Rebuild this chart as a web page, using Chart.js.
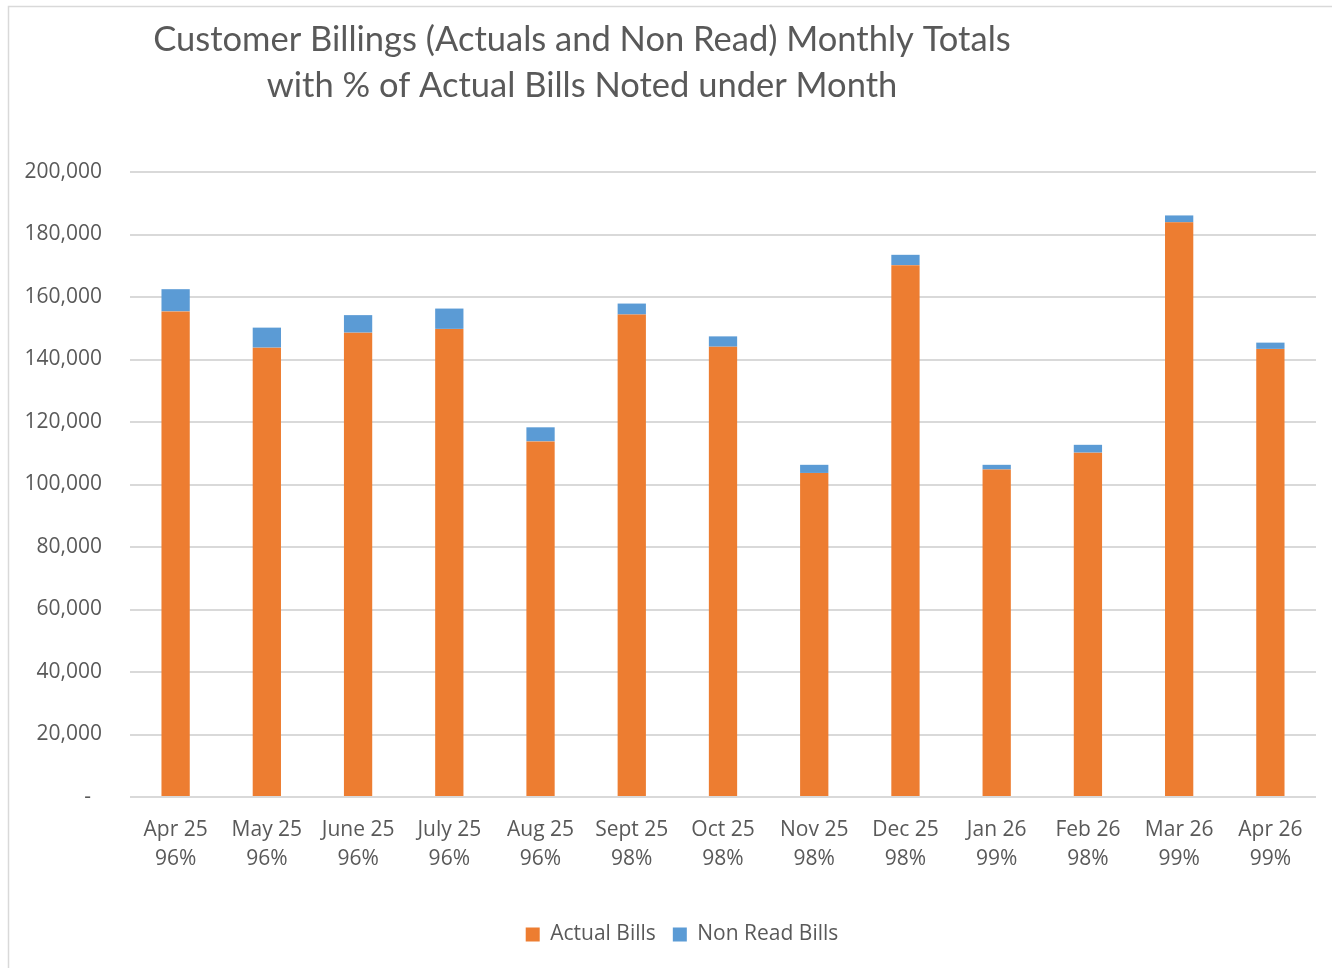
<!DOCTYPE html>
<html>
<head>
<meta charset="utf-8">
<script src="https://cdn.jsdelivr.net/npm/chart.js@4"></script>
<style>
  html, body { margin: 0; padding: 0; background: #fff; }
  #wrap { position: relative; width: 1332px; height: 968px; }
</style>
</head>
<body>
<div id="wrap"><canvas id="c" width="1332" height="968"></canvas></div>
<script>
const months = ["Apr 25","May 25","June 25","July 25","Aug 25","Sept 25","Oct 25","Nov 25","Dec 25","Jan 26","Feb 26","Mar 26","Apr 26"];
const actualPct = ["96%","96%","96%","96%","96%","98%","98%","98%","98%","99%","98%","99%","99%"];
const actualBills = [155400,143800,148600,149800,113800,154400,144100,103700,170200,104800,110200,183900,143400];
const nonReadBills = [7100,6400,5600,6500,4500,3500,3300,2600,3300,1500,2500,2200,2000];
const titleLines = ["Customer Billings (Actuals and Non Read) Monthly Totals","with % of Actual Bills Noted under Month"];

const TEXT = "#595959";
const FONT = "'Open Sans', sans-serif";

const frameAndTitle = {
  id: 'frameAndTitle',
  afterLayout(chart) {
    // legend in the reference sits slightly right of centre
    const lg = chart.legend;
    if (lg) { lg.left += 24; lg.right += 24; }
  },
  beforeDraw(chart) {
    const ctx = chart.ctx;
    ctx.save();
    ctx.fillStyle = '#fff';
    ctx.fillRect(0, 0, chart.width, chart.height);
    ctx.strokeStyle = '#d9d9d9';
    ctx.lineWidth = 1.5;
    ctx.beginPath();
    ctx.moveTo(8.5, chart.height);
    ctx.lineTo(8.5, 6.5);
    ctx.lineTo(chart.width, 6.5);
    ctx.stroke();
    ctx.restore();
  },
  afterDraw(chart) {
    const ctx = chart.ctx;
    ctx.save();
    ctx.fillStyle = TEXT;
    ctx.font = "34.5px Lato, sans-serif";
    ctx.textAlign = 'center';
    ctx.textBaseline = 'middle';
    ctx.fillText(titleLines[0], 582, 40);
    ctx.fillText(titleLines[1], 582, 86);
    ctx.restore();
  }
};

new Chart(document.getElementById('c'), {
  type: 'bar',
  data: {
    labels: months.map((m, i) => [m, actualPct[i]]),
    datasets: [
      { label: 'Actual Bills', data: actualBills, backgroundColor: '#ED7D31', borderWidth: 0, categoryPercentage: 1, barPercentage: 0.31 },
      { label: 'Non Read Bills', data: nonReadBills, backgroundColor: '#5B9BD5', borderWidth: 0, categoryPercentage: 1, barPercentage: 0.31 }
    ]
  },
  options: {
    responsive: false,
    animation: false,
    layout: { padding: { top: 172, right: 16, bottom: 13, left: 0 } },
    plugins: {
      title: { display: false },
      tooltip: { enabled: false },
      legend: {
        position: 'bottom',
        labels: {
          color: TEXT,
          font: { family: FONT, size: 21 },
          boxWidth: 14, boxHeight: 14, padding: 17
        }
      }
    },
    scales: {
      x: {
        stacked: true,
        grid: { display: false, drawTicks: false },
        border: { display: false },
        ticks: { color: TEXT, font: { family: FONT, size: 21, lineHeight: 1.4 }, padding: 18, maxRotation: 0, autoSkip: false },
        afterFit(scale) { scale.height = 110; }
      },
      y: {
        stacked: true,
        min: 0, max: 200000,
        grid: { color: '#d9d9d9', lineWidth: 2, drawTicks: false },
        border: { display: false },
        ticks: {
          stepSize: 20000,
          color: TEXT,
          font: { family: FONT, size: 21 },
          padding: 28,
          callback: v => v === 0 ? '-  ' : v.toLocaleString('en-US')
        },
        afterFit(scale) { scale.width = 130; }
      }
    }
  },
  plugins: [frameAndTitle]
});
</script>
</body>
</html>
